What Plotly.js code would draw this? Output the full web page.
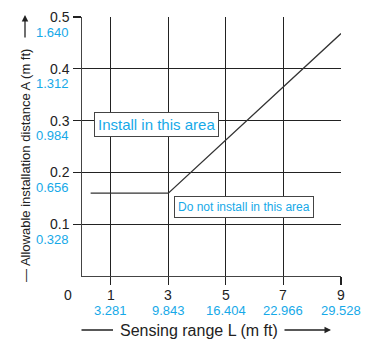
<!DOCTYPE html>
<html><head><meta charset="utf-8">
<script src="https://cdn.plot.ly/plotly-3.0.1.min.js"></script>
<style>html,body{margin:0;padding:0;background:#fff}#c{width:373px;height:340px}</style>
</head><body><div id="c"></div>
<script>
// Data
const rangeM = [0.3, 3, 9];
const distM = [0.16, 0.16, 0.468];
const xTickVals = [1, 3, 5, 7, 9];
const xTickFt = ['3.281', '9.843', '16.404', '22.966', '29.528'];
const yTickVals = [0.1, 0.2, 0.3, 0.4, 0.5];
const yTickM = ['0.1', '0.2', '0.3', '0.4', '0.5'];
const yTickFt = ['0.328', '0.656', '0.984', '1.312', '1.640'];
const areaLabels = ['Install in this area', 'Do not install in this area'];
const areaX = [2.58, 5.62];
const areaY = [0.292, 0.133];
const xTitle = 'Sensing range L (m ft)';
const yTitle = '— Allowable installation distance A (m ft)';

const BLUE = '#16a9e8';
const FONT = 'Liberation Sans, Arial, sans-serif';
const ann = [];
yTickVals.forEach((v, i) => {
  ann.push({xref:'paper', yref:'y', x:0, y:v, xanchor:'right', yanchor:'middle', xshift:-10, yshift:0,
    text:yTickM[i], showarrow:false, font:{family:FONT, size:14, color:'#222'}});
  ann.push({xref:'paper', yref:'y', x:0, y:v, xanchor:'right', yanchor:'middle', xshift:-11, yshift:-15,
    text:yTickFt[i], showarrow:false, font:{family:FONT, size:13, color:BLUE}});
});
xTickVals.forEach((v, i) => {
  ann.push({xref:'x', yref:'paper', x:v, y:0, xanchor:'center', yanchor:'middle', yshift:-19,
    text:String(v), showarrow:false, font:{family:FONT, size:14, color:'#222'}});
  ann.push({xref:'x', yref:'paper', x:v, y:0, xanchor:'center', yanchor:'middle', yshift:-34,
    text:xTickFt[i], showarrow:false, font:{family:FONT, size:13, color:BLUE}});
});
ann.push({xref:'paper', yref:'paper', x:0, y:0, xanchor:'center', yanchor:'middle', xshift:-14, yshift:-19,
  text:'0', showarrow:false, font:{family:FONT, size:14, color:'#222'}});
areaLabels.forEach((t, i) => {
  ann.push({xref:'x', yref:'y', x:areaX[i], y:areaY[i], text:t, showarrow:false,
    font:{family:FONT, size:i === 0 ? 15 : 12, color:BLUE}, bgcolor:'#fff',
    bordercolor:'#444', borderwidth:1, borderpad:3});
});
// x title
ann.push({xref:'paper', yref:'paper', x:(118-82)/259, y:0, xanchor:'left', yanchor:'middle', yshift:-54,
  text:xTitle, showarrow:false, font:{family:FONT, size:16, color:'#222'}});
ann.push({xref:'paper', yref:'paper', x:(113-82)/259, y:0, yshift:-54, ax:-33, ay:0, axref:'pixel', ayref:'pixel',
  text:'', showarrow:true, arrowhead:0, arrowwidth:1.3, arrowcolor:'#222'});
ann.push({xref:'paper', yref:'paper', x:(331-82)/259, y:0, yshift:-54, ax:-48, ay:0,
  text:'', showarrow:true, arrowhead:2, arrowsize:1, arrowwidth:1.3, arrowcolor:'#222'});
// y title
ann.push({xref:'paper', yref:'paper', x:(25-82)/259, y:(276-166)/259, xanchor:'center', yanchor:'middle',
  text:yTitle, textangle:-90, showarrow:false, font:{family:FONT, size:13, color:'#222'}});
ann.push({xref:'paper', yref:'paper', x:(25-82)/259, y:(276-15)/259, ax:0, ay:24,
  text:'', showarrow:true, arrowhead:2, arrowsize:1, arrowwidth:1.3, arrowcolor:'#222'});

const trace = {x: rangeM, y: distM, mode:'lines', line:{color:'#333', width:1.3}, hoverinfo:'skip'};
const layout = {
  width:373, height:340, margin:{l:82, r:32, t:17, b:64},
  paper_bgcolor:'#fff', plot_bgcolor:'#fff', showlegend:false,
  xaxis:{range:[0, 9], tickvals:xTickVals, showticklabels:false, ticks:'outside', ticklen:8,
    tickcolor:'#222', tickwidth:1.2, showgrid:true, gridcolor:'#222', gridwidth:1.2,
    showline:true, linecolor:'#444', linewidth:1.2, zeroline:false, fixedrange:true},
  yaxis:{range:[0, 0.5], tickvals:yTickVals, showticklabels:false, ticks:'outside', ticklen:8,
    tickcolor:'#222', tickwidth:1.2, showgrid:true, gridcolor:'#222', gridwidth:1.2,
    showline:true, linecolor:'#444', linewidth:1.2, zeroline:false, fixedrange:true},
  annotations: ann
};
Plotly.newPlot('c', [trace], layout, {staticPlot:true});
</script></body></html>
